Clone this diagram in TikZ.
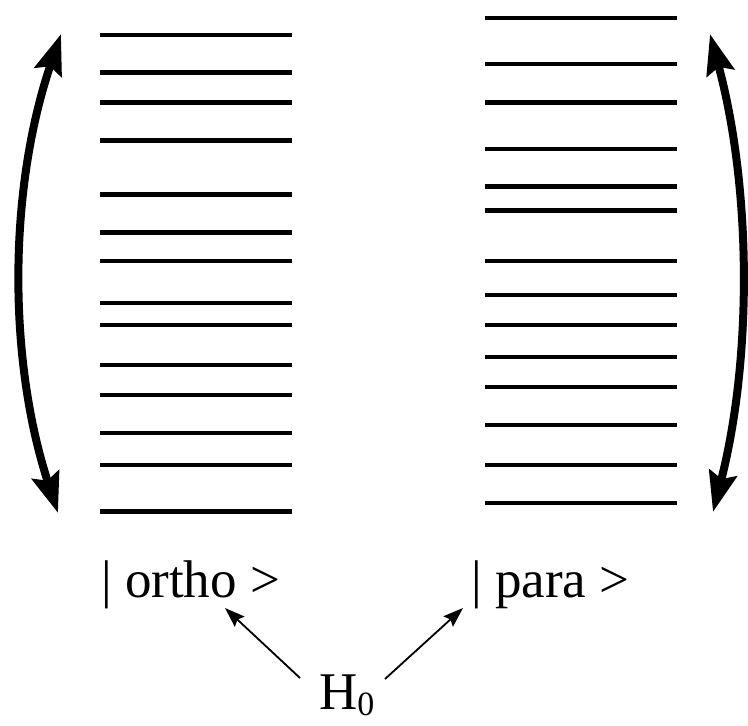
\documentclass[tikz,border=0pt]{standalone}
\usepackage{fontspec}
\setmainfont{Liberation Serif}
\usetikzlibrary{arrows.meta}
\begin{document}
\begin{tikzpicture}[x=1pt,y=-1pt,
  level/.style={line width=4.2pt},
  bigarrow/.style={line width=8pt,{Stealth[length=40pt,width=28pt,inset=6pt]}-{Stealth[length=40pt,width=28pt,inset=6pt]}},
  smallarrow/.style={line width=1.8pt,-{Stealth[length=20pt,width=14pt,inset=3pt]}},
  lbl/.style={inner sep=0pt,anchor=base west,font=\fontsize{53}{60}\selectfont}]
\useasboundingbox (0,0) rectangle (748,726);
% left column (ortho)
\foreach \y in {35,72.5,102.5,140.5,194.5,232.5,261,303,325,365,395,433,465,511.5}
  \draw[level] (100,\y) -- (292,\y);
% right column (para)
\foreach \y in {18,64,102.5,149,186.5,210.5,261,295,325,357,387,425,465,503}
  \draw[level] (485,\y) -- (677,\y);
% curved double arrows
\coordinate (lb) at (58,513);
\coordinate (lt) at (61,34);
\coordinate (rb) at (713,512);
\coordinate (rt) at (710,34);
\draw[bigarrow] (lb) .. controls (8,360) and (8,190) .. (lt);
\draw[bigarrow] (rb) .. controls (752,360) and (752,190) .. (rt);
% labels
\node[lbl] (ortho) at (101,597) {| ortho >};
\node[lbl] (para) at (471,597) {| para >};
\node[lbl] (h0) at (319,709) {H\raisebox{-6pt}{\fontsize{34}{34}\selectfont 0}};
\coordinate (o1) at (300,678);
\coordinate (o2) at (225,608);
\coordinate (p1) at (385,679);
\coordinate (p2) at (463,608);
\draw[smallarrow] (o1) -- (o2);
\draw[smallarrow] (p1) -- (p2);
\end{tikzpicture}
\end{document}
